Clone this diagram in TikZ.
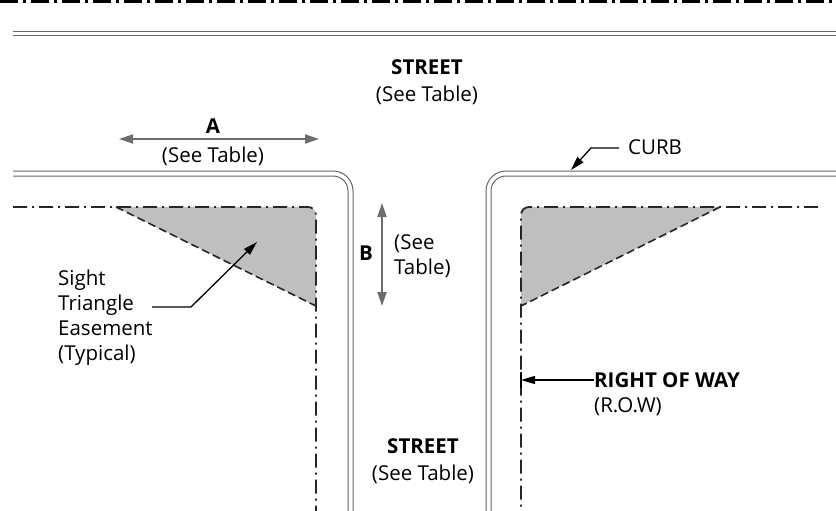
\documentclass[tikz,border=0pt]{standalone}
\usepackage{fontspec}
\setmainfont{Open Sans}
\usetikzlibrary{arrows.meta}
\begin{document}
\begin{tikzpicture}[x=1pt,y=-1pt,
  curb/.style={draw=gray!80!black,line width=1pt},
  row/.style={draw=black!85,line width=1.8pt,dash pattern=on 14pt off 5pt on 2pt off 5pt},
  hyp/.style={draw=black!85,line width=1.6pt,dash pattern=on 8pt off 4pt},
  tri/.style={fill=black!25},
  dim/.style={draw=gray!85!black,line width=2pt,{Triangle[length=14pt,width=9pt]}-{Triangle[length=14pt,width=9pt]}},
  lead/.style={draw=black,line width=1.3pt,-{Triangle[length=14pt,width=8pt]}},
  txt/.style={font=\fontsize{20.5}{25}\selectfont,inner sep=0pt},
  btxt/.style={txt,font=\fontsize{20.5}{25}\selectfont\bfseries}]
\useasboundingbox (0,0) rectangle (836,511);
% top lines
\draw[line width=3.5pt,dash pattern=on 18pt off 5pt on 3pt off 5pt] (0,1) -- (836,1);
\draw[curb] (13,31.5) -- (836,31.5);
\draw[curb] (13,35.5) -- (836,35.5);
% triangles
\fill[tri] (116,207) -- (308,207) arc[start angle=-90,end angle=0,radius=8] -- (316,306) -- cycle;
\fill[tri] (720,207) -- (529,207) arc[start angle=-90,end angle=-180,radius=8] -- (521,306) -- cycle;
% left curb
\draw[curb] (13,171) -- (333,171) arc[start angle=-90,end angle=0,radius=20] -- (353,511);
\draw[curb] (13,176) -- (333,176) arc[start angle=-90,end angle=0,radius=15] -- (348,511);
% right curb
\draw[curb] (836,171) -- (506,171) arc[start angle=-90,end angle=-180,radius=20] -- (486,511);
\draw[curb] (836,176) -- (506,176) arc[start angle=-90,end angle=-180,radius=15] -- (491,511);
% ROW lines
\draw[row] (13,207) -- (308,207) arc[start angle=-90,end angle=0,radius=8] -- (316,511);
\draw[row] (818,207) -- (529,207) arc[start angle=-90,end angle=-180,radius=8] -- (521,511);
\draw[hyp] (116,207) -- (316,306);
\draw[hyp] (720,207) -- (521,306);
% labels
\node[btxt] (st1) at (427,67) {STREET};
\node[txt] (st1b) at (427,95) {(See Table)};
\node[btxt] (st2) at (423,446) {STREET};
\node[txt] (st2b) at (423,474) {(See Table)};
\node[btxt] (a) at (213,126) {A};
\node[txt] (ab) at (213,156) {(See Table)};
\coordinate (a1) at (119,139); \coordinate (a2) at (319,139);
\draw[dim] (a1) -- (a2);
\coordinate (b1) at (382,203); \coordinate (b2) at (382,306);
\draw[dim] (b1) -- (b2);
\node[btxt] (b) at (366,253) {B};
\node[txt,anchor=west,align=left] (bt) at (394,256) {(See\\Table)};
\node[txt,anchor=north west,align=left] (sight) at (58,270) {Sight\\Triangle\\Easement\\(Typical)};
\coordinate (s0) at (152,307); \coordinate (s1) at (191,307); \coordinate (s2) at (257,242);
\draw[lead] (s0) -- (s1) -- (s2);
\node[txt,anchor=west] (curb) at (628,147) {CURB};
\coordinate (c0) at (619,148); \coordinate (c1) at (591,148); \coordinate (c2) at (571,170);
\draw[lead] (c0) -- (c1) -- (c2);
\node[btxt,anchor=west] (row) at (594,380) {RIGHT OF WAY};
\node[txt,anchor=west] (rowb) at (594,407) {(R.O.W)};
\coordinate (r1) at (521,380);
\draw[lead] (row.west) -- (r1);
\draw[line width=1.3pt] (521,372) -- (521,388);
\end{tikzpicture}
\end{document}
